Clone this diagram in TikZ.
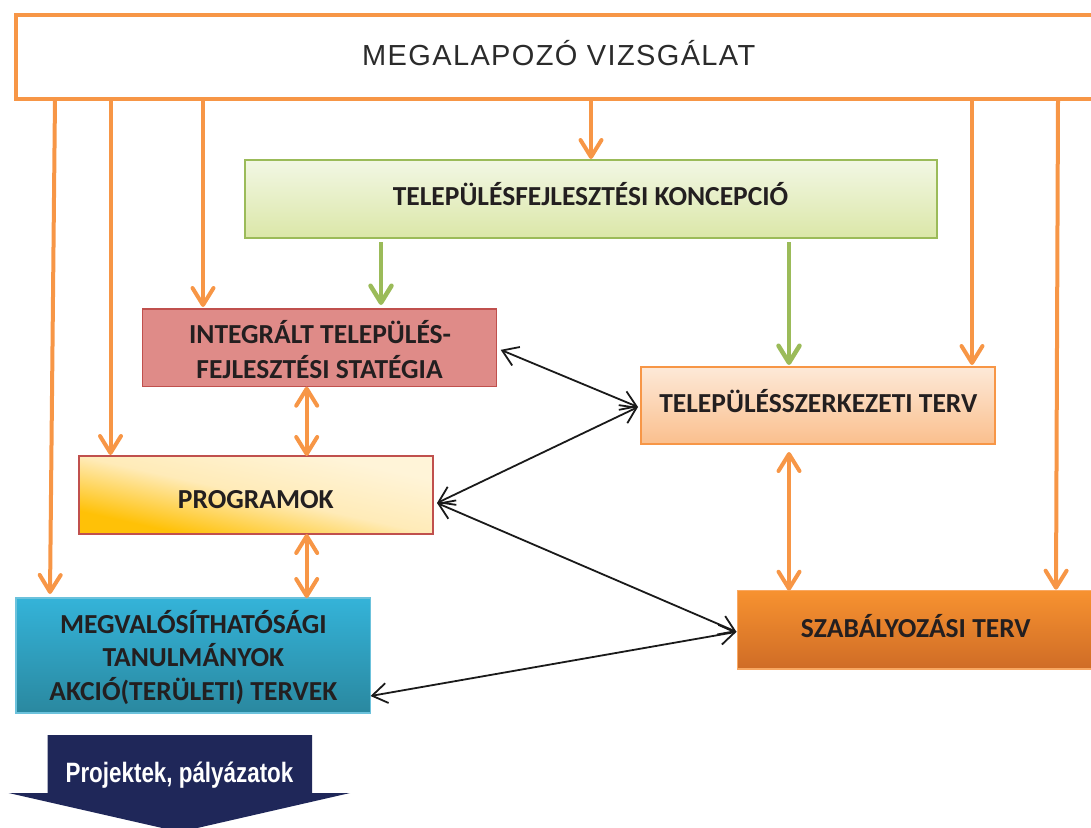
\documentclass[tikz,border=0pt]{standalone}
\usepackage{fontspec}
\usepackage{graphicx}
\setmainfont{Carlito}
\newfontfamily\arialsp{Liberation Sans}[LetterSpace=4.7]
\newfontfamily\arialb{Liberation Sans}
\usetikzlibrary{arrows.meta,calc}
\definecolor{orng}{HTML}{F79646}
\definecolor{grn}{HTML}{9BBB59}
\definecolor{txt}{HTML}{231F20}
\definecolor{topt}{HTML}{2B2B2B}
\definecolor{navy}{HTML}{1F2759}
\definecolor{blk}{HTML}{1A1A1A}
\definecolor{tfkT}{HTML}{F2F7E4}
\definecolor{tfkB}{HTML}{DBE7A8}
\definecolor{redb}{HTML}{C0504D}
\definecolor{redf}{HTML}{DF8B88}
\definecolor{tszT}{HTML}{FDE9D8}
\definecolor{tszB}{HTML}{FABF8D}
\definecolor{progT}{HTML}{FFF4D8}
\definecolor{progM}{HTML}{FFEBB8}
\definecolor{progB}{HTML}{FFC107}
\definecolor{megvD}{HTML}{6CC2DC}
\definecolor{megvT}{HTML}{34B3D9}
\definecolor{megvBot}{HTML}{2A889F}
\definecolor{szabD}{HTML}{F9A862}
\definecolor{szabT}{HTML}{F79230}
\definecolor{szabB}{HTML}{CF6C26}
\begin{document}
\begin{tikzpicture}[x=1pt,y=-1pt,
  box/.style={draw, line width=1.5pt, inner sep=0pt, outer sep=0pt, anchor=north west, minimum width=354pt, minimum height=78pt},
  lbl/.style={inner sep=0pt, anchor=base, font=\fontsize{27.5}{32}\selectfont\bfseries, text=txt},
  oarr/.style={draw=orng, line width=4pt, -{Straight Barb[length=17pt,width=21pt,round]}},
  odbl/.style={draw=orng, line width=4pt, {Straight Barb[length=17pt,width=21pt,round]}-{Straight Barb[length=17pt,width=21pt,round]}},
  garr/.style={draw=grn, line width=4.5pt, -{Straight Barb[length=17pt,width=21pt,round]}},
  bdbl/.style={draw=blk, line width=1.8pt, {Straight Barb[length=15pt,width=20pt]}-{Straight Barb[length=15pt,width=20pt]}}
]
\useasboundingbox (0,0) rectangle (1091,827);
% boxes
\node[box, draw=orng, line width=4pt, fill=white, minimum width=1094pt, minimum height=84pt] (top) at (16,14.5) {};
\node[box, draw=grn, top color=tfkT, bottom color=tfkB, minimum width=692pt] (tfk) at (245,160) {};
\node[box, draw=redb, fill=redf, minimum width=354.4pt, minimum height=77.7pt] (integ) at (142.3,309) {};
\node[box, draw=orng, top color=tszT, bottom color=tszB, minimum height=77pt] (tsz) at (641,367) {};
\begin{scope}[transform canvas={xscale=4.53846}]
  \shade[top color=progT, bottom color=progB, middle color=progM, shading angle=-45] (17.4068,456) rectangle (95.4068,534);
\end{scope}
\node[box, draw=redb] (prog) at (79,456) {};
\node[box, draw=megvD, top color=megvT, bottom color=megvBot, minimum width=354.5pt, minimum height=115pt] (megv) at (16,598) {};
\node[box, draw=szabD, top color=szabT, bottom color=szabB, minimum width=357pt, minimum height=78.3pt] (szab) at (737.5,590.7) {};
% labels
\node[lbl, font=\fontsize{29}{34}\selectfont\arialsp, text=topt] (topl) at (558.7,65.7) {MEGALAPOZÓ VIZSGÁLAT};
\node[lbl] (tfkl) at (590.5,205) {TELEPÜLÉSFEJLESZTÉSI KONCEPCIÓ};
\node[lbl] (integl1) at (320,343.3) {INTEGRÁLT TELEPÜLÉS-};
\node[lbl] (integl2) at (319.5,378) {FEJLESZTÉSI STATÉGIA};
\node[lbl] (tszl) at (818.3,412.3) {TELEPÜLÉSSZERKEZETI TERV};
\node[lbl] (progl) at (255.8,508.3) {PROGRAMOK};
\node[lbl] (megvl1) at (193.4,633.3) {MEGVALÓSÍTHATÓSÁGI};
\node[lbl] (megvl2) at (193.4,666) {TANULMÁNYOK};
\node[lbl] (megvl3) at (193.4,700) {AKCIÓ(TERÜLETI) TERVEK};
\node[lbl] (szabl) at (915.8,637.3) {SZABÁLYOZÁSI TERV};
% bottom arrow shape
\fill[navy] (47.6,735) -- (312,735) -- (312,793) -- (350,793) -- (179.8,832) -- (8.7,793) -- (47.6,793) -- cycle;
\node[lbl, font=\fontsize{28}{32}\selectfont\arialb\bfseries, text=white] (projl) at (179.5,782.7) {\scalebox{0.8}[1]{Projektek, pályázatok}};
% orange connectors from top
\draw[oarr] ($(top.south west)+(39,0)$) -- ($(megv.north west)+(34,-4)$);
\draw[oarr] ($(top.south west)+(94.5,0)$) -- ($(prog.north west)+(31.5,-1)$);
\draw[oarr] ($(top.south west)+(187,0)$) -- ($(integ.north west)+(60.7,-2)$);
\draw[oarr] ($(top.south west)+(575,0)$) -- ($(tfk.north west)+(346,-1)$);
\draw[oarr] ($(top.south west)+(956,0)$) -- ($(tsz.north west)+(331,-2)$);
\draw[oarr] ($(top.south west)+(1042,0)$) -- ($(szab.north west)+(318.5,-1)$);
% green
\draw[garr] ($(tfk.south west)+(136,4)$) -- ($(integ.north west)+(238.7,-4)$);
\draw[garr] ($(tfk.south west)+(544,4)$) -- ($(tsz.north west)+(148,-2)$);
% orange double
\draw[odbl] ($(integ.south west)+(164.4,0)$) -- ($(prog.north west)+(227.7,0)$);
\draw[odbl] ($(prog.south west)+(227.7,0)$) -- ($(megv.north west)+(290.7,0)$);
\draw[odbl] ($(tsz.south west)+(148,8)$) -- ($(szab.north west)+(51.5,0)$);
% black
\coordinate (integR) at ($(integ.east)+(4,2)$);
\coordinate (tszL) at ($(tsz.west)+(-3,1.5)$);
\coordinate (progR) at ($(prog.east)+(4,8)$);
\coordinate (szabL) at ($(szab.west)+(-1,2)$);
\coordinate (megvR) at ($(megv.east)+(0,40.5)$);
\draw[bdbl] (integR) -- (tszL);
\draw[bdbl] (progR) -- (tszL);
\draw[bdbl] (progR) -- (szabL);
\draw[bdbl] (megvR) -- (szabL);
\end{tikzpicture}
\end{document}
